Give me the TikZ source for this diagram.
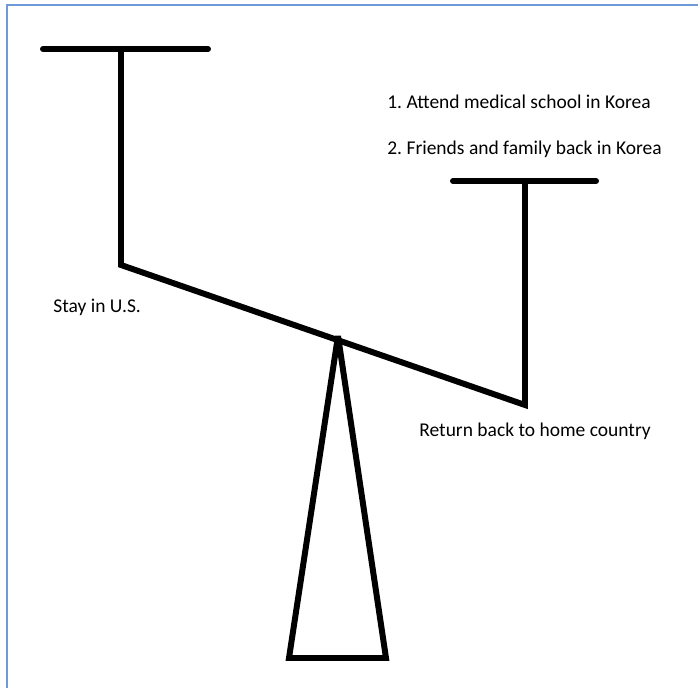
\documentclass[tikz,border=0pt]{standalone}
\usepackage{fontspec}
\setmainfont{Carlito}
\usepackage{xcolor}
\usepackage{tikz}
\usetikzlibrary{positioning,calc}
\definecolor{myframe}{RGB}{110,155,215}
\frenchspacing

\tikzset{
  beam/.style={line width=3.4pt, line cap=round, line join=miter, miter limit=2},
  note/.style={font=\fontsize{11.1}{13}\selectfont, inner sep=0pt, anchor=west}
}

\begin{document}
\begin{tikzpicture}[x=0.02cm, y=-0.02cm]
  \useasboundingbox (0,0) rectangle (698,688);
  % frame
  \draw[myframe, line width=1.1pt] (7,688) -- (7,5) -- (698,5);
  % points of the seesaw
  \coordinate (lefttop)   at (121,49);
  \coordinate (leftend)   at (121,265);
  \coordinate (righttop)  at (525,181);
  \coordinate (rightend)  at (525,405);
  \coordinate (pivot)     at (338,336);
  \coordinate (baseleft)  at (289,658);
  \coordinate (baseright) at (386,658);
  % left pan
  \draw[beam] (43,49) -- (208,49);
  \draw[beam] (lefttop) -- (leftend) -- (rightend) -- (righttop);
  % right pan
  \draw[beam] (453,181) -- (596,181);
  % stand
  \draw[beam] (pivot) -- (baseleft) -- (baseright) -- cycle;
  % labels
  \node[note] (stay)    at (53,307)  {Stay in U.S.};
  \node[note] (reason1) at (387,102) {1. Attend medical school in Korea};
  \node[note] (reason2) at (387,149) {2. Friends and family back in Korea};
  \node[note] (return)  at (419,431) {Return back to home country};
\end{tikzpicture}
\end{document}
